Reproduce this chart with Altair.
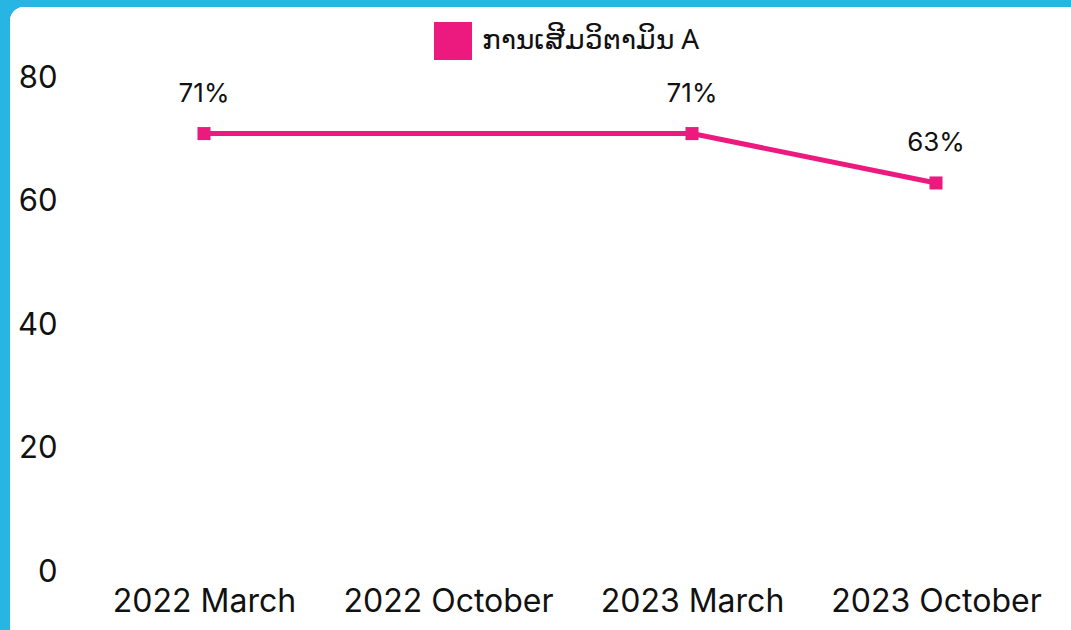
import altair as alt
import pandas as pd

categories = ["2022 March", "2022 October", "2023 March", "2023 October"]
line_cats = ["2022 March", "2023 March", "2023 October"]
line_vals = [71, 71, 63]
labels = ["71%", "71%", "63%"]
series = "ການເສີມວິຕາມິນ A"

PINK = "#ec1a7e"
BLUE = "#27b5e4"
FONT = "Inter"

df = pd.DataFrame({"cat": line_cats, "val": line_vals, "lab": labels, "series": [series] * len(line_cats)})

x = alt.X("cat:N", scale=alt.Scale(domain=categories, type="point", padding=0.5),
          sort=categories,
          axis=alt.Axis(title=None, labelAngle=0, domain=False, ticks=False, grid=False, zindex=1,
                        labelFontSize=32, labelFont=FONT, labelColor="#111111", labelPadding=14,
                        labelLimit=400))
y = alt.Y("val:Q", scale=alt.Scale(domain=[0, 80], nice=False),
          axis=alt.Axis(title=None, values=[0, 20, 40, 60, 80], domain=False, ticks=False, grid=False,
                        zindex=1, labelFontSize=31, labelFont=FONT, labelColor="#111111", labelPadding=25))

bg = alt.Chart(df).mark_rect(color="white", cornerRadiusTopLeft=14).encode(
    x=alt.value(-72), x2=alt.value(989), y=alt.value(-71), y2=alt.value(552)
)

line = alt.Chart(df).mark_line(color=PINK, strokeWidth=5).encode(x=x, y=y)
pts = alt.Chart(df).mark_square(size=170, opacity=1, filled=True).encode(
    x=x, y=y,
    color=alt.Color("series:N", scale=alt.Scale(range=[PINK]),
                    legend=alt.Legend(title=None, orient="none", legendX=352, legendY=-56,
                                      symbolType="square", symbolSize=1444, symbolStrokeWidth=0,
                                      labelFontSize=28, labelFont="Noto Sans", labelColor="#111111",
                                      labelFontWeight="normal", labelOffset=10, labelLimit=600))
)
txt = alt.Chart(df).mark_text(dy=-40, fontSize=26, font=FONT, color="#111111", baseline="middle").encode(
    x=x, y=y, text="lab:N")

chart = alt.layer(bg, line, pts, txt).properties(
    width=976, height=494,
    autosize=alt.AutoSizeParams(type="none"),
    padding={"left": 82, "top": 78, "right": 13, "bottom": 58},
    background=BLUE,
).configure_view(stroke=None)

chart.save("out.html", embed_options={"renderer": "svg", "actions": False})
